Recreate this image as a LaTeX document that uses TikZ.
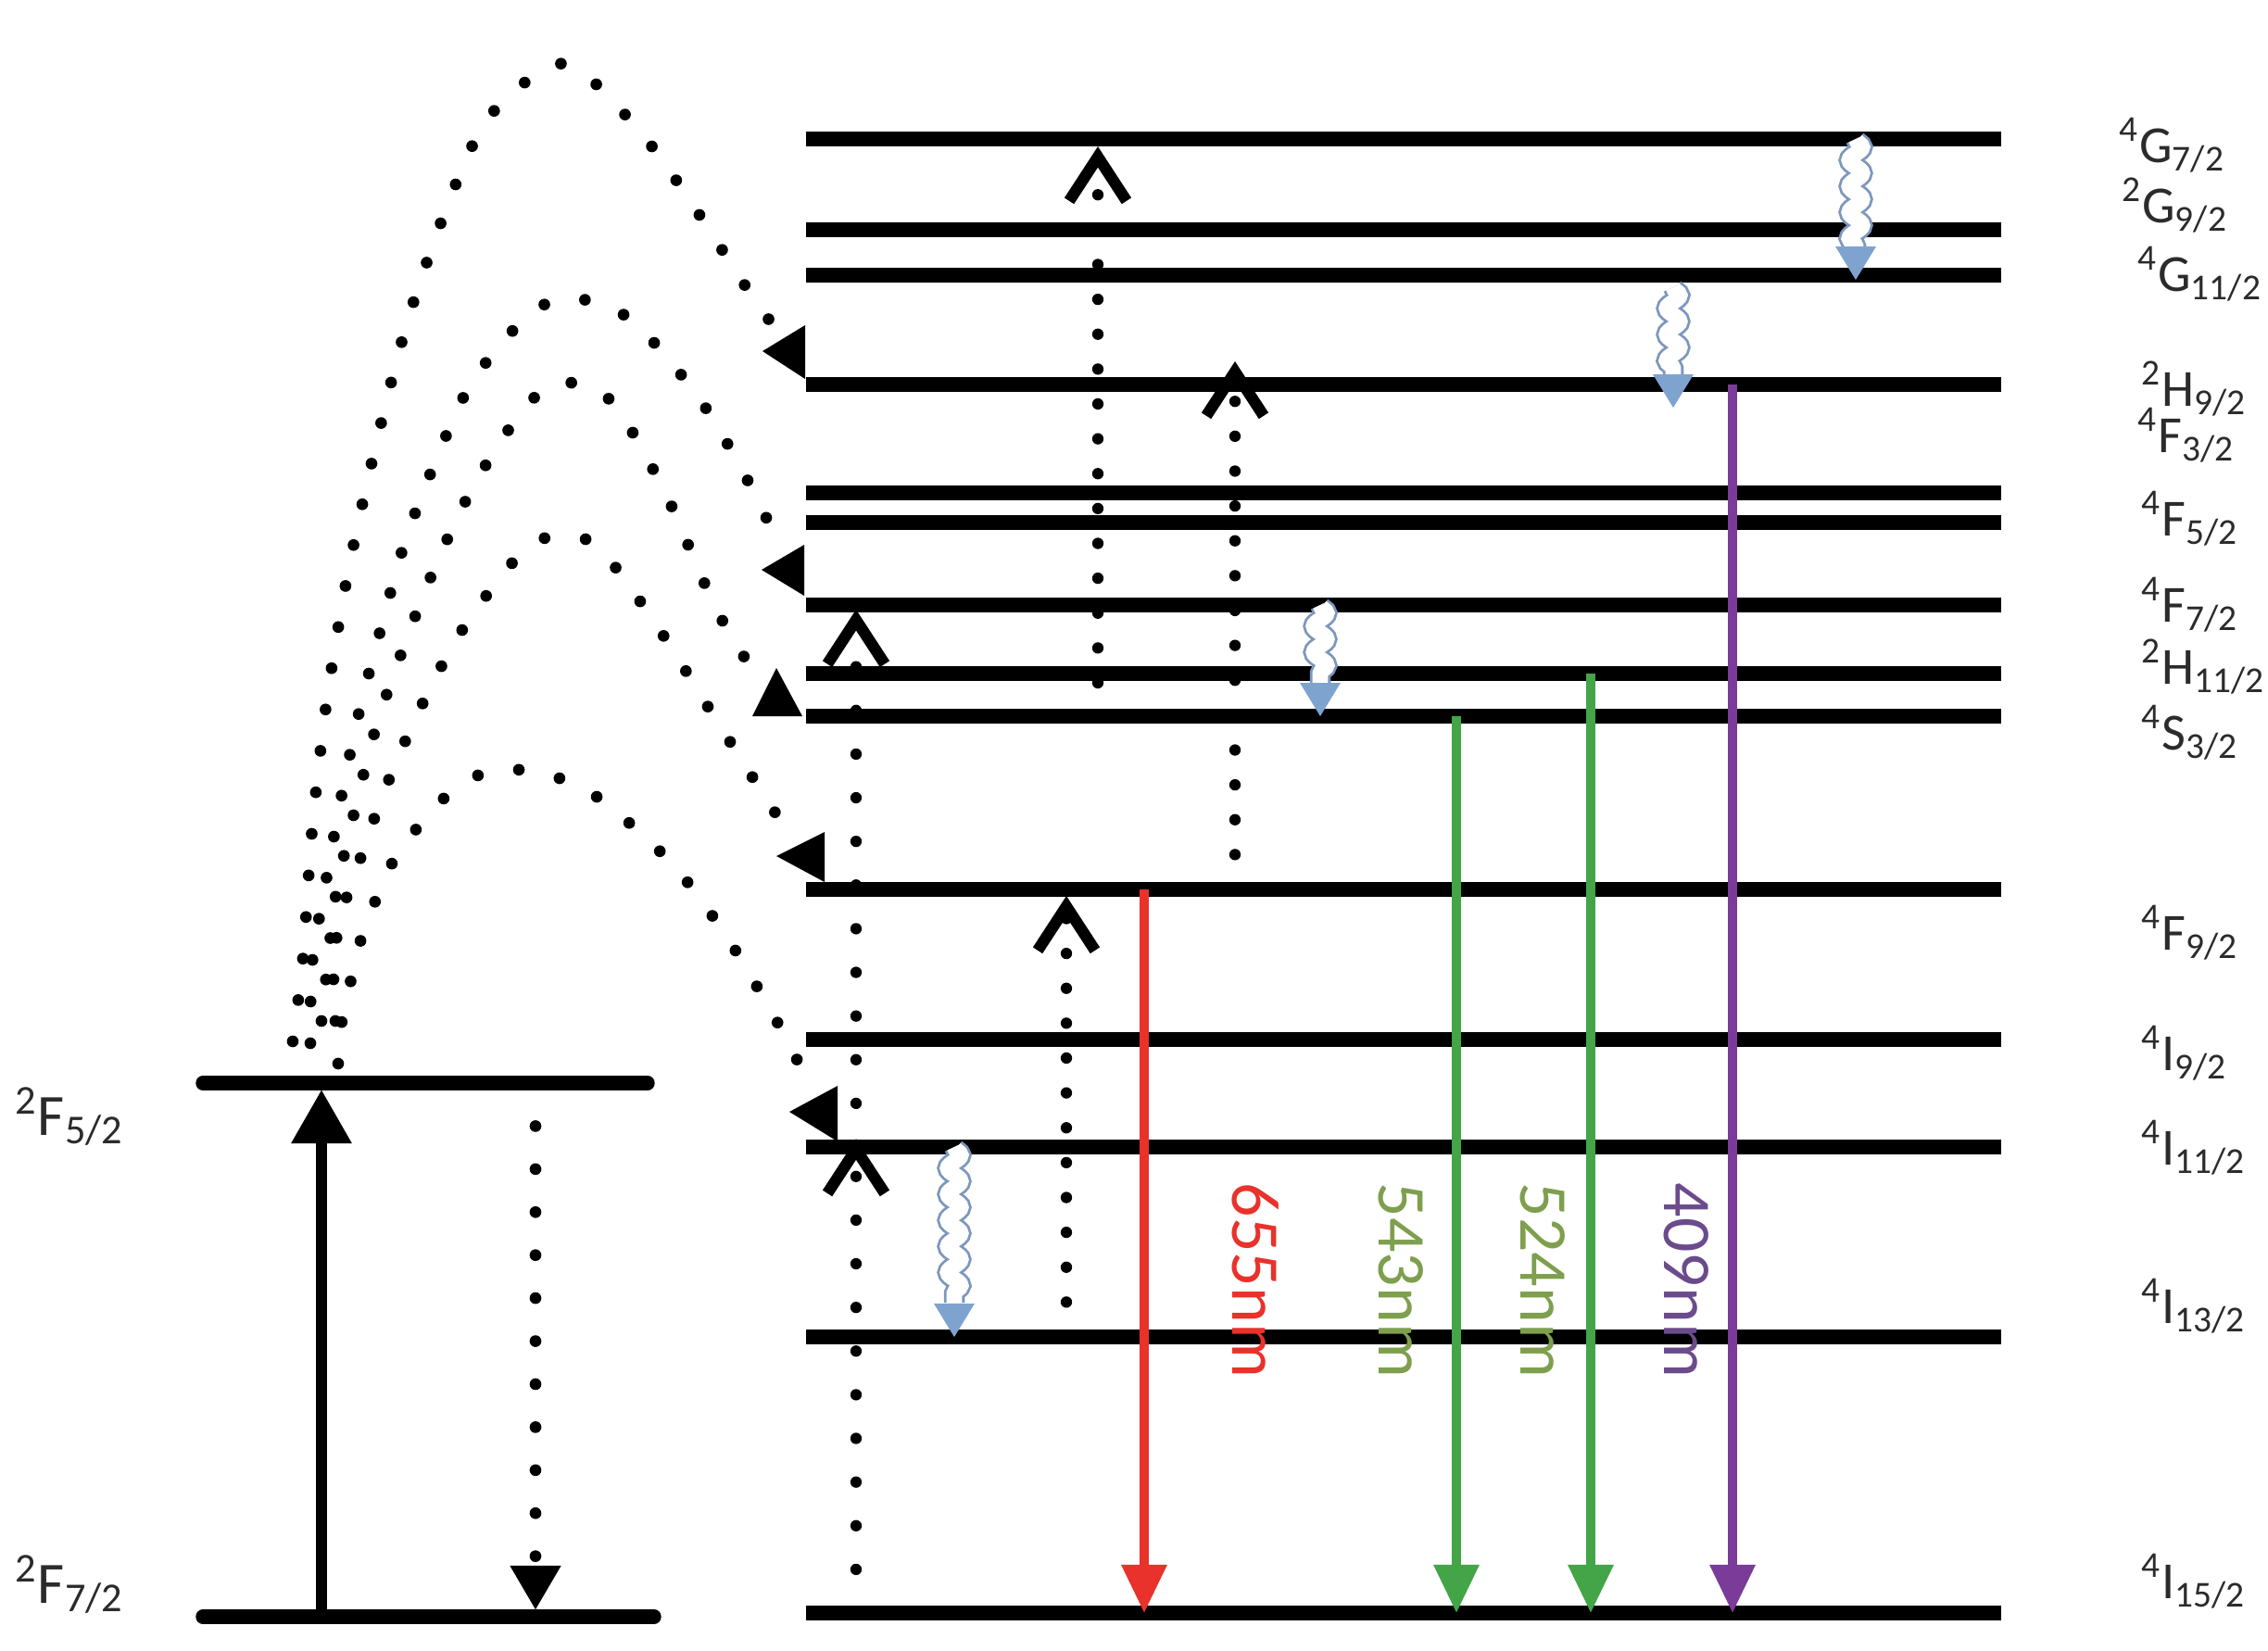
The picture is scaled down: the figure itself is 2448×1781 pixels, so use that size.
\documentclass[tikz,border=0pt]{standalone}
\usepackage{fontspec}
\setmainfont{Carlito}
\usepackage{xcolor}
\usetikzlibrary{arrows.meta, calc, decorations.pathmorphing}
\definecolor{emitred}{HTML}{E8322B}
\definecolor{emitgreen}{HTML}{43A448}
\definecolor{emitviolet}{HTML}{7B3B98}
\definecolor{taggreen}{HTML}{7E9F4E}
\definecolor{tagviolet}{HTML}{6B4B8C}
\definecolor{wavyedge}{HTML}{7C97BD}
\definecolor{wavyfill}{HTML}{7FA3CF}
\definecolor{termgray}{HTML}{2B2B2B}
\newcommand{\termsym}[3]{\textsuperscript{#1}#2\textsubscript{#3}}

\begin{document}
\begin{tikzpicture}[
    x=0.01cm, y=-0.01cm,
    lvline/.style={line width=4.4pt},
    gsline/.style={lvline, line cap=round},
    pumparrow/.style={line width=3.4pt, -{Triangle[length=16.5pt, width=17.7pt]}},
    decayarrow/.style={line width=3.6pt, line cap=round, dash pattern=on 0pt off 13.2pt, -{Triangle[length=13.7pt, width=14.7pt]}},
    transferdots/.style={line width=3.6pt, line cap=round, dash pattern=on 0pt off 12.8pt},
    arcarrow/.style={fill=black},
    etuline/.style={line width=3.5pt, line cap=round, dash pattern=on 0pt off #1, -{Straight Barb[length=13.5pt, width=17.6pt]}},
    etuline/.default=10.7pt,
    emitarrow/.style={draw=#1, line width=2.6pt, -{Triangle[length=14.8pt, width=13.4pt]}},
    nrline/.style={draw=wavyedge, line width=0.8pt, double=white, double distance=4.8pt, decorate, decoration={snake, amplitude=2pt, segment length=8pt}},
    nrhead/.style={fill=wavyfill},
    termlabel/.style={font=\fontsize{16}{18}\selectfont, text=termgray, anchor=base west, inner sep=0pt},
    bigterm/.style={termlabel, font=\fontsize{18}{20}\selectfont},
    nmlabel/.style={font=\fontsize{21}{24}\selectfont, rotate=-90, inner sep=0pt},
]
    \fill[white] (0,0) rectangle (2448,1781);
    \useasboundingbox (0,0) rectangle (2448,1781);

    % Yb levels
    \draw[gsline] (219,1169) coordinate (F52L) -- (699,1169);
    \draw[gsline] (219,1745) coordinate (F72L) -- (706,1745);

    % Er levels
    \foreach \lv/\y in {G72/150, G92/248, G112/297, H92/415, F52a/532, F52b/564, F72/653, H112/727, S32/773, F92/960, I92/1122, I112/1238, I132/1443, I152/1741} {
        \draw[lvline] (870,\y) coordinate (\lv) -- (2160,\y);
    }

    % columns of the transitions
    \foreach \xn/\x in {xpump/347, xdecay/578, xetuA/924, xetuB/1151, xetuC/1185, xetuD/1333, xnrA/1030, xnrB/1425, xnrC/1806, xnrD/2003, xred/1235, xgreenA/1572, xgreenB/1717, xviolet/1870}
        \coordinate (\xn) at (\x,0);

    % Yb absorption and relaxation
    \draw[pumparrow, shorten >=2pt] (xpump |- F72L) -- (xpump |- F52L);
    \draw[decayarrow, shorten >=2pt] (xdecay |- F52L) -- (xdecay |- F72L);

    % energy transfer Yb -> Er
    \draw[transferdots] plot[smooth] coordinates {(316,1124) (327,1034) (337,894) (353,754) (376,616) (406,479) (441,343) (487,211) (528,126) (596,70) (639,87) (702,156) (755,232) (806,311) (835,352)};
    \draw[transferdots] plot[smooth] coordinates {(335,1126) (337,1039) (352,950) (369,857) (388,767) (412,675) (437,585) (470,498) (509,413) (569,341) (611,322) (657,331) (694,357) (754,429) (802,509) (843,592)};
    \draw[transferdots] plot[smooth] coordinates {(347,1102) (352,1055) (363,963) (384,870) (407,781) (438,692) (472,606) (513,521) (564,443) (600,414) (644,420) (675,454) (720,536) (757,622) (777,665) (805,712)};
    \draw[transferdots] plot[smooth] coordinates {(362,1102) (360,1040) (368,988) (383,944) (414,856) (451,770) (495,686) (549,612) (584,582) (630,581) (664,612) (718,689) (768,769) (818,848) (845,890)};
    \draw[transferdots] plot[smooth] coordinates {(365,1148) (369,1102) (379,1057) (391,1010) (427,925) (486,855) (528,833) (574,832) (619,846) (659,871) (727,934) (783,1009) (831,1089) (853,1130) (875,1172)};
    \fill[arcarrow] (H92) ++(-1,-6) -- ++(0,-58) -- ++(-46,28) -- cycle;
    \fill[arcarrow] (F72) ++(-2,-10) -- ++(0,-55) -- ++(-46,27) -- cycle;
    \fill[arcarrow] (S32) ++(-4,0) -- ++(-54,0) -- ++(26,-52) -- cycle;
    \fill[arcarrow] (F92) ++(20,-8) -- ++(0,-54) -- ++(-52,26) -- cycle;
    \fill[arcarrow] (I112) ++(34,-6) -- ++(0,-60) -- ++(-52,28) -- cycle;

    % energy transfer upconversion
    \draw[etuline, shorten >=2.3pt] ($(xetuC |- H112)+(0,10)$) -- (xetuC |- G72);
    \draw[etuline, shorten >=-7.1pt] (xetuD |- F92) -- (xetuD |- H92);
    \draw[etuline=13.4pt, shorten >=-2.5pt] (xetuA |- I152) -- (xetuA |- I112);
    \draw[etuline=13.4pt, shorten >=1.4pt] (xetuA |- I112) -- (xetuA |- F72);
    \draw[etuline, shorten >=2pt] (xetuB |- I132) -- (xetuB |- F92);

    % emission
    \draw[emitarrow=emitred] (xred |- F92) -- (xred |- I152);
    \draw[emitarrow=emitgreen] (xgreenA |- S32) -- (xgreenA |- I152);
    \draw[emitarrow=emitgreen] (xgreenB |- H112) -- (xgreenB |- I152);
    \draw[emitarrow=emitviolet] (xviolet |- H92) -- (xviolet |- I152);
    \node[nmlabel, text=emitred] (nm655) at (1355,1382) {655nm};
    \node[nmlabel, text=taggreen] (nm543) at (1512,1382) {543nm};
    \node[nmlabel, text=taggreen] (nm524) at (1665,1382) {524nm};
    \node[nmlabel, text=tagviolet] (nm409) at (1820,1382) {409nm};

    % non-radiative relaxation
    \draw[nrline] (xnrD |- G72) -- ++(0,118);
    \fill[nrhead] (xnrD |- G112) ++(0,5) -- ++(-22,-36) -- ++(44,0) -- cycle;
    \draw[nrline] (xnrC |- G112) ++(0,13) -- ++(0,96);
    \fill[nrhead] (xnrC |- H92) ++(0,25) -- ++(-22,-36) -- ++(44,0) -- cycle;
    \draw[nrline] (xnrB |- F72) -- ++(0,86);
    \fill[nrhead] (xnrB |- S32) -- ++(-22,-36) -- ++(44,0) -- cycle;
    \draw[nrline] (xnrA |- I112) -- ++(0,168);
    \fill[nrhead] (xnrA |- I132) -- ++(-22,-36) -- ++(44,0) -- cycle;

    % term symbols
    \node[bigterm] (tF52L) at (16,1225) {\termsym{2}{F}{5/2}};
    \node[bigterm] (tF72L) at (16,1730) {\termsym{2}{F}{7/2}};
    \node[termlabel] (tG72) at (2287,175) {\termsym{4}{G}{7/2}};
    \node[termlabel] (tG92) at (2290,240) {\termsym{2}{G}{9/2}};
    \node[termlabel] (tG112) at (2307,314) {\termsym{4}{G}{11/2}};
    \node[termlabel] (tH92) at (2311,438) {\termsym{2}{H}{9/2}};
    \node[termlabel] (tF32) at (2307,488) {\termsym{4}{F}{3/2}};
    \node[termlabel] (tF52) at (2311,578) {\termsym{4}{F}{5/2}};
    \node[termlabel] (tF72) at (2311,671) {\termsym{4}{F}{7/2}};
    \node[termlabel] (tH112) at (2311,738) {\termsym{2}{H}{11/2}};
    \node[termlabel] (tS32) at (2311,809) {\termsym{4}{S}{3/2}};
    \node[termlabel] (tF92) at (2311,1025) {\termsym{4}{F}{9/2}};
    \node[termlabel] (tI92) at (2311,1155) {\termsym{4}{I}{9/2}};
    \node[termlabel] (tI112) at (2311,1257) {\termsym{4}{I}{11/2}};
    \node[termlabel] (tI132) at (2311,1428) {\termsym{4}{I}{13/2}};
    \node[termlabel] (tI152) at (2311,1725) {\termsym{4}{I}{15/2}};
\end{tikzpicture}
\end{document}
